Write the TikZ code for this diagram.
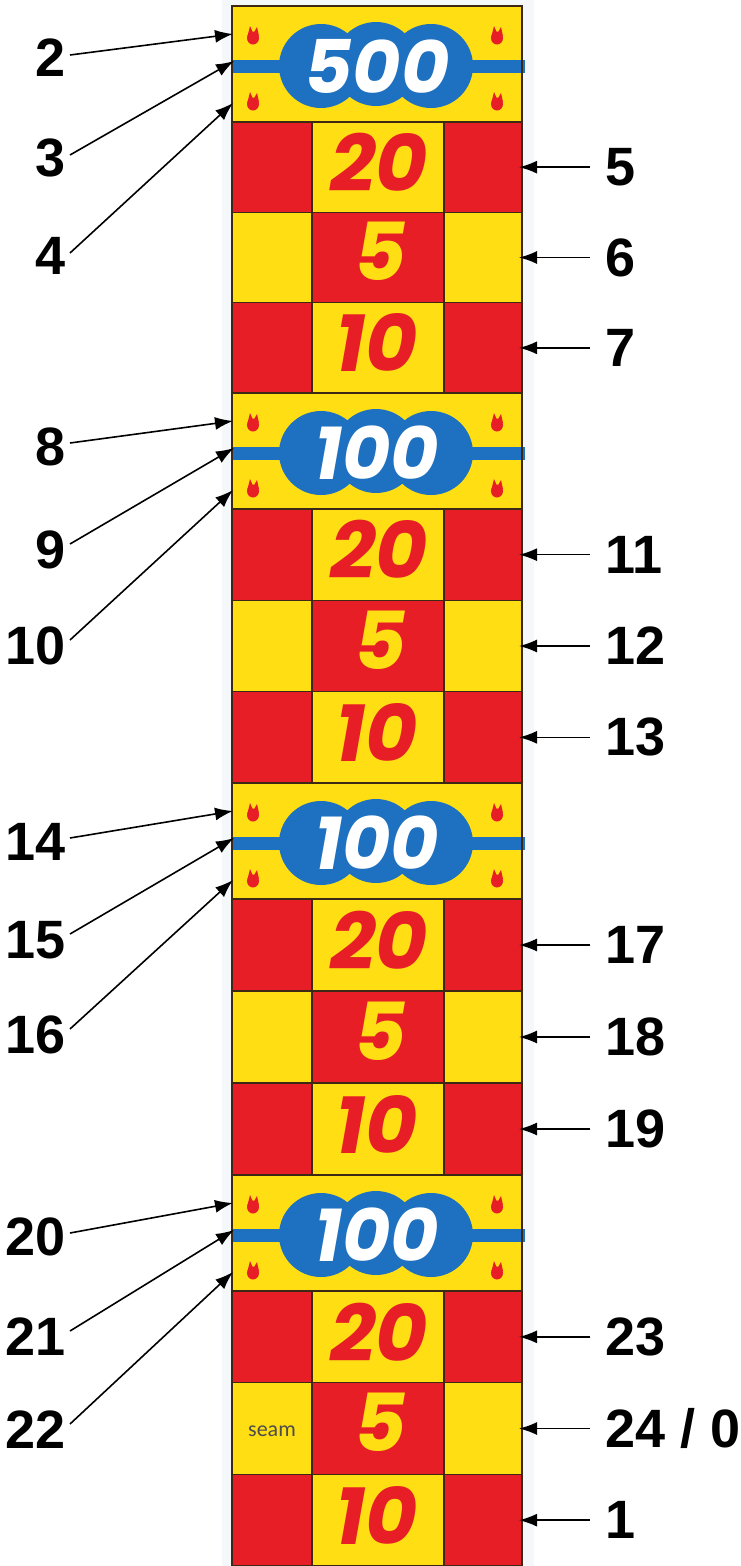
\documentclass[tikz,border=0pt]{standalone}
\usepackage{fontspec}
\setmainfont{Liberation Sans}
\newfontfamily\gamefont{Poppins}
\newfontfamily\notefont{Carlito}
\usetikzlibrary{arrows.meta,positioning}
\definecolor{boardYellow}{RGB}{255,222,20}
\definecolor{boardRed}{RGB}{232,30,38}
\definecolor{boardBlue}{RGB}{30,112,192}
\definecolor{boardEdge}{RGB}{60,40,20}
\definecolor{boardShade}{RGB}{244,248,251}
\tikzset{
  flame/.pic={
    \fill[boardRed] (0,2) ellipse (6 and 6.5);
    \fill[boardRed] (-5.5,0) -- (-3,-10) -- (0.5,-2) -- cycle;
    \fill[boardRed] (0,-2) -- (4,-9) -- (6,0) -- cycle;
  }
}

\begin{document}
\begin{tikzpicture}[x=1pt, y=-1pt,
  num/.style={font=\fontsize{54}{54}\selectfont\bfseries, inner sep=0pt},
  arr/.style={-{Latex[length=18pt,width=13pt]}, line width=1.6pt},
  cell/.style={draw=boardEdge, line width=1.6pt},
  score/.style={font=\gamefont\fontsize{74}{74}\selectfont\bfseries\itshape, inner sep=0pt},
  value/.style={font=\gamefont\fontsize{80}{80}\selectfont\bfseries\itshape, inner sep=0pt}
]
\useasboundingbox (0,0) rectangle (740,1566);
\fill[boardShade] (222,0) rectangle (534,1566);

% the board: four bands, each followed by 20 / 5 / 10
\foreach \T/\N/\val [count=\k] in {6/393/500, 393/783/100, 783/1175/100, 1175/1566/100} {
  \pgfmathsetmacro\ra{\T+116}
  \pgfmathsetmacro\rh{(\N-\T-116)/3}
  \pgfmathsetmacro\rb{\ra+\rh}
  \pgfmathsetmacro\rc{\rb+\rh}
  % band
  \fill[boardYellow] (232,\T) rectangle (522,\ra);
  \fill[boardBlue] (232,\T+53.5) rectangle (525,\T+66.5);
  \fill[boardBlue] (321,\T+60) circle (42) (376,\T+58) circle (42) (431,\T+60) circle (42);
  \node[score, text=white] at (377,\T+60) {\val};
  \pic at (253,\T+30) {flame};
  \pic at (497,\T+30) {flame};
  \pic at (253,\T+96) {flame};
  \pic at (497,\T+96) {flame};
  \draw[cell] (232,\T) rectangle (522,\ra);
  % 20 row
  \fill[boardRed] (232,\ra) rectangle (312,\rb);
  \fill[boardYellow] (312,\ra) rectangle (444,\rb);
  \fill[boardRed] (444,\ra) rectangle (522,\rb);
  \node[value, text=boardRed] at (379,{(\ra+\rb)/2-5}) {20};
  % 5 row
  \fill[boardYellow] (232,\rb) rectangle (312,\rc);
  \fill[boardRed] (312,\rb) rectangle (444,\rc);
  \fill[boardYellow] (444,\rb) rectangle (522,\rc);
  \node[value, text=boardYellow] at (380,{(\rb+\rc)/2-6}) {5};
  % 10 row
  \fill[boardRed] (232,\rc) rectangle (312,\N);
  \fill[boardYellow] (312,\rc) rectangle (444,\N);
  \fill[boardRed] (444,\rc) rectangle (522,\N);
  \node[value, text=boardRed] at (377,{(\rc+\N)/2-5}) {10};
  \draw[cell] (232,\ra) rectangle (522,\N)
    (232,\rb) -- (522,\rb) (232,\rc) -- (522,\rc)
    (312,\ra) -- (312,\N) (444,\ra) -- (444,\N);
  % hit points
  \coordinate (up\k) at (233,\T+28);
  \coordinate (mid\k) at (234,\T+55);
  \coordinate (low\k) at (233,\T+97);
  \coordinate (rowA\k) at (519,{(\ra+\rb)/2});
  \coordinate (rowB\k) at (519,{(\rb+\rc)/2});
  \coordinate (rowC\k) at (519,{(\rc+\N)/2});
}
\draw[boardEdge, line width=2.2pt] (232,6) rectangle (522,1566);
\node[font=\notefont\fontsize{22}{22}\selectfont, text=black!70, inner sep=0pt] (seam) at (272,1431) {seam};

% left labels
\node[num, anchor=east] (n2) at (66,58) {2};
\node[num, anchor=east] (n3) at (66,158) {3};
\node[num, anchor=east] (n4) at (66,256) {4};
\node[num, anchor=east] (n8) at (66,447) {8};
\node[num, anchor=east] (n9) at (66,550) {9};
\node[num, anchor=east] (n10) at (66,646) {10};
\node[num, anchor=east] (n14) at (66,842) {14};
\node[num, anchor=east] (n15) at (66,940) {15};
\node[num, anchor=east] (n16) at (66,1035) {16};
\node[num, anchor=east] (n20) at (66,1237) {20};
\node[num, anchor=east] (n21) at (66,1337) {21};
\node[num, anchor=east] (n22) at (66,1430) {22};

% right labels
\node[num, anchor=west, right=86pt of rowA1] (n5) {5};
\node[num, anchor=west, right=86pt of rowB1] (n6) {6};
\node[num, anchor=west, right=86pt of rowC1] (n7) {7};
\node[num, anchor=west, right=86pt of rowA2] (n11) {11};
\node[num, anchor=west, right=86pt of rowB2] (n12) {12};
\node[num, anchor=west, right=86pt of rowC2] (n13) {13};
\node[num, anchor=west, right=86pt of rowA3] (n17) {17};
\node[num, anchor=west, right=86pt of rowB3] (n18) {18};
\node[num, anchor=west, right=86pt of rowC3] (n19) {19};
\node[num, anchor=west, right=86pt of rowA4] (n23) {23};
\node[num, anchor=west, right=86pt of rowB4] (n24) {24 / 0};
\node[num, anchor=west, right=86pt of rowC4] (n1) {1};

\draw[arr] ([xshift=4pt,yshift=3pt]n2.east) -- (up1);
\draw[arr] ([xshift=4pt,yshift=3pt]n3.east) -- (mid1);
\draw[arr] ([xshift=4pt,yshift=3pt]n4.east) -- (low1);
\draw[arr] ([xshift=4pt,yshift=4pt]n8.east) -- (up2);
\draw[arr] ([xshift=4pt,yshift=6pt]n9.east) -- (mid2);
\draw[arr] ([xshift=4pt,yshift=6pt]n10.east) -- (low2);
\draw[arr] ([xshift=4pt,yshift=4pt]n14.east) -- (up3);
\draw[arr] ([xshift=4pt,yshift=6pt]n15.east) -- (mid3);
\draw[arr] ([xshift=4pt,yshift=6pt]n16.east) -- (low3);
\draw[arr] ([xshift=4pt,yshift=4pt]n20.east) -- (up4);
\draw[arr] ([xshift=4pt,yshift=6pt]n21.east) -- (mid4);
\draw[arr] ([xshift=4pt,yshift=6pt]n22.east) -- (low4);

\draw[arr] ([xshift=-15pt]n5.west) -- (rowA1);
\draw[arr] ([xshift=-15pt]n6.west) -- (rowB1);
\draw[arr] ([xshift=-15pt]n7.west) -- (rowC1);
\draw[arr] ([xshift=-15pt]n11.west) -- (rowA2);
\draw[arr] ([xshift=-15pt]n12.west) -- (rowB2);
\draw[arr] ([xshift=-15pt]n13.west) -- (rowC2);
\draw[arr] ([xshift=-15pt]n17.west) -- (rowA3);
\draw[arr] ([xshift=-15pt]n18.west) -- (rowB3);
\draw[arr] ([xshift=-15pt]n19.west) -- (rowC3);
\draw[arr] ([xshift=-15pt]n23.west) -- (rowA4);
\draw[arr] ([xshift=-15pt]n24.west) -- (rowB4);
\draw[arr] ([xshift=-15pt]n1.west) -- (rowC4);
\end{tikzpicture}
\end{document}
